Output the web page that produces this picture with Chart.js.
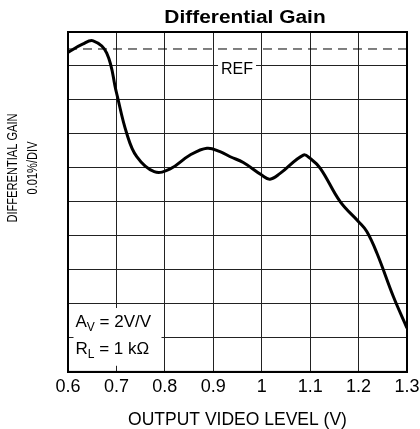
<!DOCTYPE html>
<html>
<head>
<meta charset="utf-8">
<script src="https://cdn.jsdelivr.net/npm/chart.js@4.4.1/dist/chart.umd.min.js"></script>
<style>
  html, body { margin: 0; padding: 0; background: #fff; }
</style>
</head>
<body>
<canvas id="gainChart" width="420" height="429"></canvas>
<script>
// values (x in volts, y in divisions of 0.01%)
const outputLevel = [0.600, 0.630, 0.652, 0.680, 0.700, 0.721, 0.742, 0.778, 0.811, 0.852, 0.887, 0.914, 0.935, 0.962, 1.000, 1.017, 1.038, 1.086, 1.100, 1.121, 1.162, 1.200, 1.217, 1.238, 1.272, 1.300];
const diffGain    = [9.40, 9.64, 9.74, 9.38, 8.22, 7.03, 6.33, 5.89, 5.97, 6.38, 6.58, 6.48, 6.33, 6.16, 5.79, 5.67, 5.84, 6.38, 6.28, 5.99, 5.01, 4.42, 4.13, 3.49, 2.21, 1.29];
const xTickLabels = ['0.6', '0.7', '0.8', '0.9', '1', '1.1', '1.2', '1.3'];
const refLevel = 9.5;
const refRange = [0.6, 1.3];

const font = '"Liberation Sans", Arial, sans-serif';

const curvePoints = outputLevel.map((v, i) => ({ x: v, y: diffGain[i] }));
const refPoints = refRange.map(v => ({ x: v, y: refLevel }));

// title, rotated y label, frame and the boxed notes
const extras = {
  id: 'extras',
  afterDraw(chart) {
    const { ctx, chartArea: a, scales: { x, y } } = chart;
    ctx.save();

    ctx.strokeStyle = '#000';
    ctx.lineWidth = 2;
    ctx.strokeRect(a.left, a.top, a.right - a.left, a.bottom - a.top);

    ctx.fillStyle = '#000';
    ctx.textAlign = 'center';
    ctx.textBaseline = 'middle';

    ctx.save();
    ctx.translate(245, 18);
    ctx.scale(1.16, 1);
    ctx.font = 'bold 18px ' + font;
    ctx.fillText('Differential Gain', 0, 0);
    ctx.restore();

    ctx.save();
    ctx.translate(13, 168);
    ctx.rotate(-Math.PI / 2);
    ctx.scale(0.74, 1);
    ctx.font = '15px ' + font;
    ctx.fillText('DIFFERENTIAL GAIN', 0, 0);
    ctx.fillText('0.01%/DIV', 0, 20);
    ctx.restore();

    // REF label
    ctx.font = '16px ' + font;
    ctx.textAlign = 'left';
    const rx = x.getPixelForValue(0.916);
    const ry = y.getPixelForValue(8.9);
    const rw = ctx.measureText('REF').width;
    ctx.fillStyle = '#fff';
    ctx.fillRect(rx - 3, ry - 8, rw + 6, 16);
    ctx.fillStyle = '#000';
    ctx.fillText('REF', rx, ry);

    // conditions box
    const bx = x.getPixelForValue(0.6155);
    const by1 = y.getPixelForValue(1.45);
    const by2 = y.getPixelForValue(0.65);
    ctx.fillStyle = '#fff';
    ctx.fillRect(bx - 2, y.getPixelForValue(1.88), 88, y.getPixelForValue(0.18) - y.getPixelForValue(1.88));
    ctx.fillStyle = '#000';
    const withSub = (main, sub, rest, px, py) => {
      ctx.font = '17px ' + font;
      ctx.fillText(main, px, py);
      let cx = px + ctx.measureText(main).width;
      ctx.font = '12px ' + font;
      ctx.fillText(sub, cx, py + 5);
      cx += ctx.measureText(sub).width;
      ctx.font = '17px ' + font;
      ctx.fillText(rest, cx, py);
    };
    withSub('A', 'V', ' = 2V/V', bx, by1);
    withSub('R', 'L', ' = 1 k\u03A9', bx, by2);

    ctx.restore();
  }
};

new Chart(document.getElementById('gainChart').getContext('2d'), {
  type: 'line',
  data: {
    datasets: [{
      label: 'Differential Gain',
      data: curvePoints,
      borderColor: '#000',
      borderWidth: 3,
      pointRadius: 0,
      tension: 0.4,
      fill: false
    }, {
      label: 'REF',
      data: refPoints,
      borderColor: '#000',
      borderWidth: 1,
      borderDash: [9, 6],
      pointRadius: 0,
      tension: 0,
      fill: false
    }]
  },
  options: {
    responsive: false,
    animation: false,
    devicePixelRatio: 1,
    layout: { padding: { left: 68, right: 13, top: 32, bottom: 0 } },
    plugins: {
      legend: { display: false },
      title: { display: false },
      tooltip: { enabled: false }
    },
    scales: {
      x: {
        type: 'linear',
        min: 0.6,
        max: 1.3,
        afterFit: s => { s.paddingLeft = 0; s.paddingRight = 0; },
        ticks: {
          stepSize: 0.1,
          padding: 4,
          color: '#000',
          font: { family: font, size: 18 },
          callback: (v, i) => xTickLabels[i]
        },
        grid: { color: '#222', lineWidth: 1, drawTicks: false },
        border: { color: '#000', width: 2 },
        title: {
          display: true,
          text: 'OUTPUT VIDEO LEVEL (V)',
          color: '#000',
          font: { family: font, size: 17.5, lineHeight: 1 },
          padding: { top: 10, bottom: 0 }
        }
      },
      y: {
        min: 0,
        max: 10,
        ticks: { display: false, stepSize: 1 },
        grid: { color: '#222', lineWidth: 1, drawTicks: false },
        border: { color: '#000', width: 2 }
      }
    }
  },
  plugins: [extras]
});
</script>
</body>
</html>
